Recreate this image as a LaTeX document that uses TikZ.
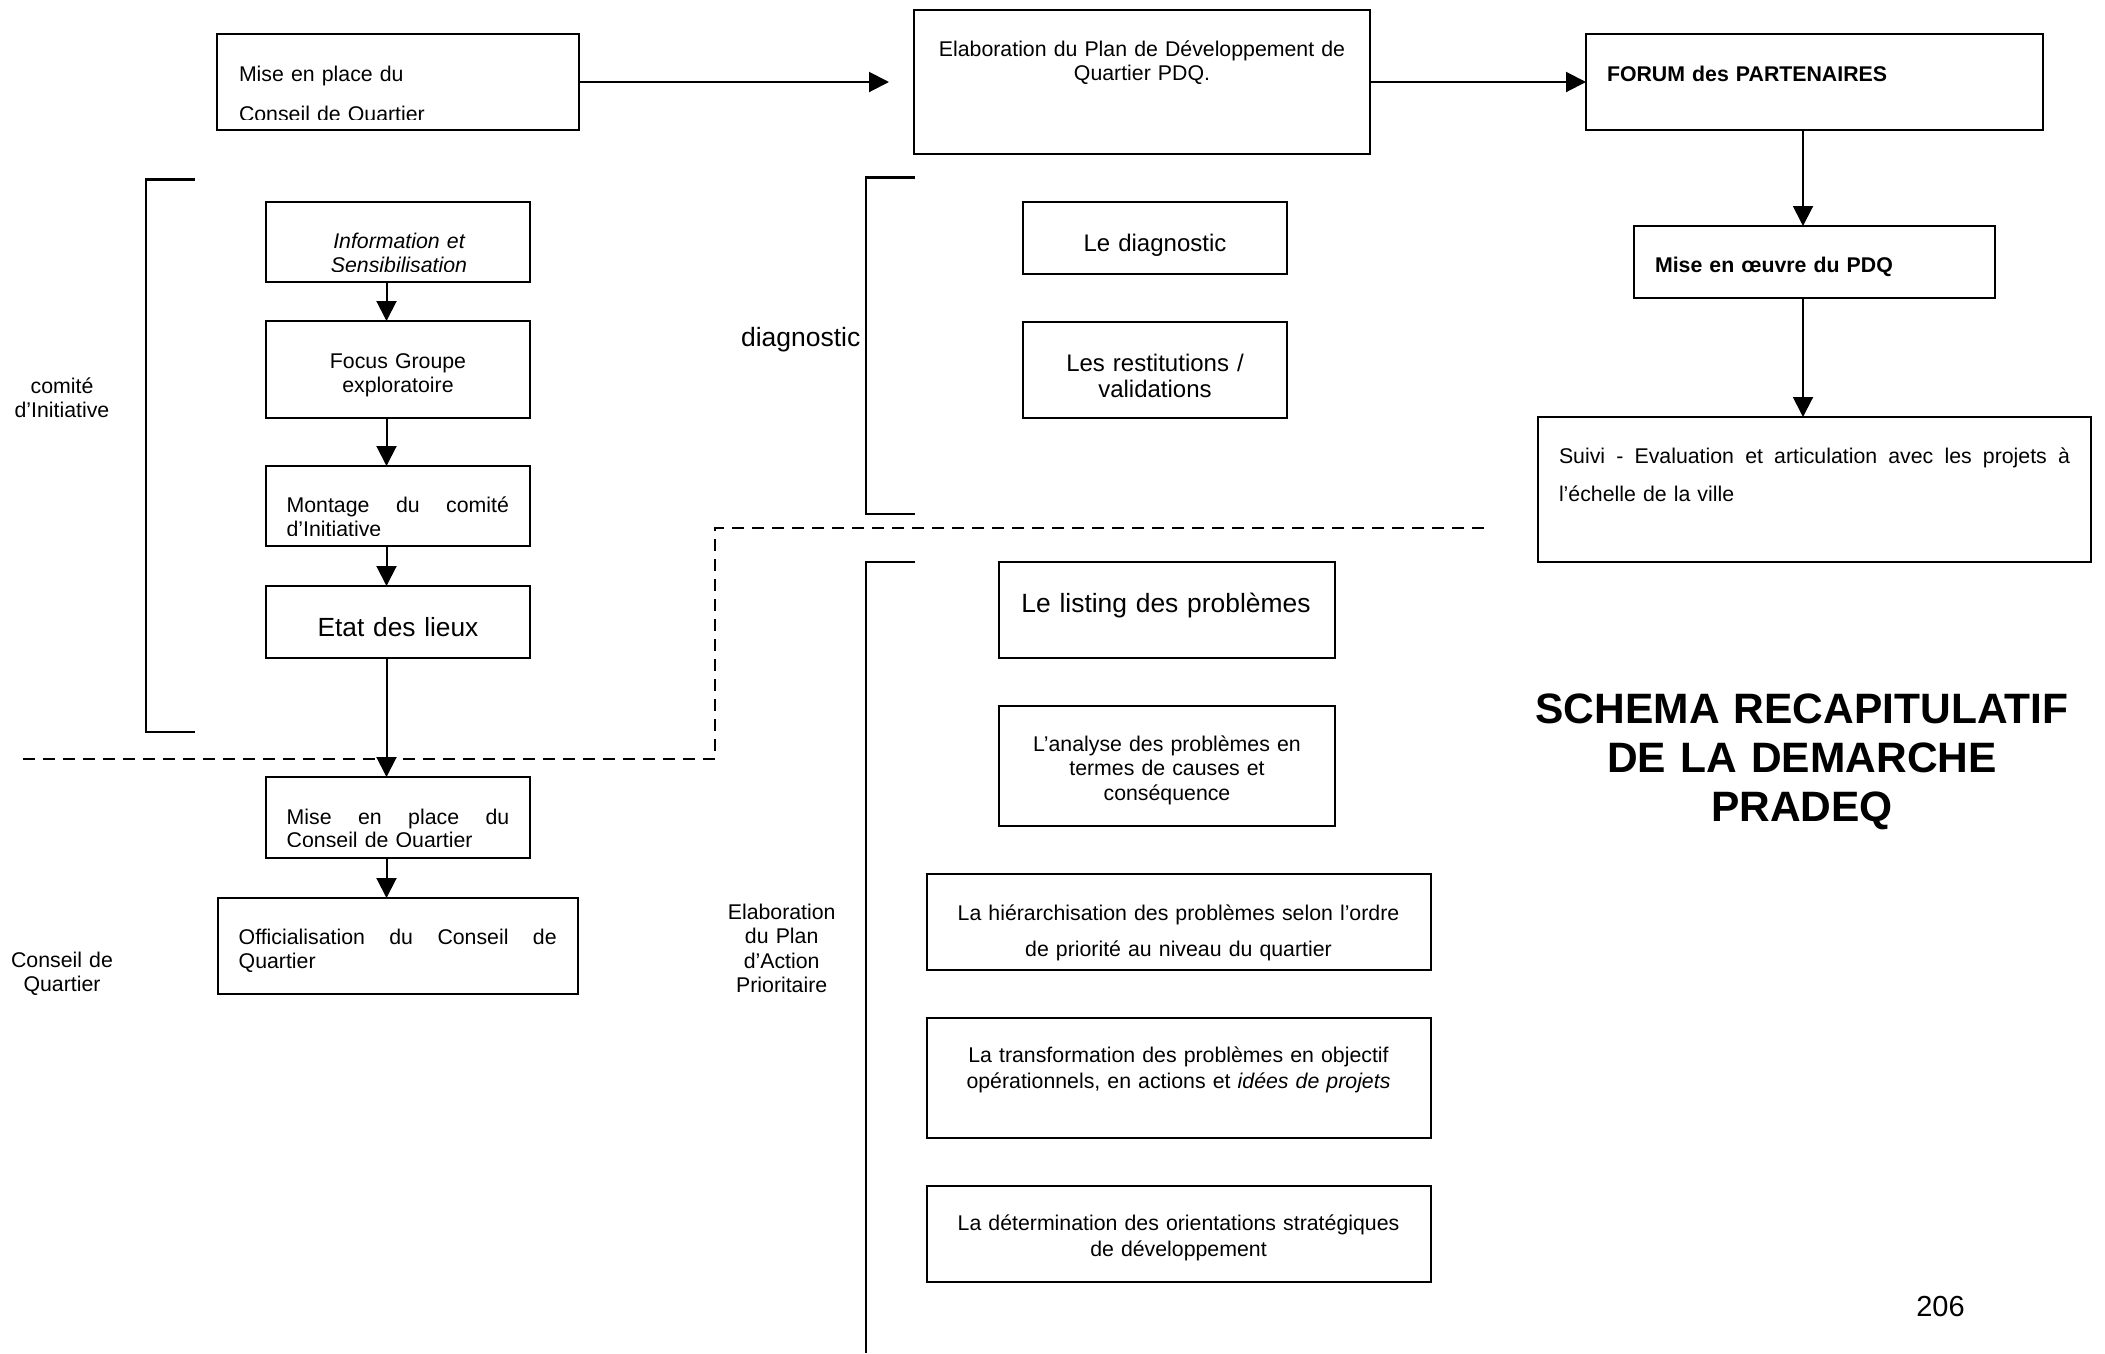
\documentclass[tikz,border=0pt]{standalone}
\usepackage{fontspec}
\setmainfont{Liberation Sans}
\usetikzlibrary{arrows.meta}
\begin{document}
\begin{tikzpicture}[x=1pt,y=-1pt,
  box/.style={draw, line width=2.2pt, inner sep=0pt, outer sep=0pt, anchor=north west},
  tc/.style={inner sep=0pt, outer sep=0pt, text width=700pt, align=center, anchor=base},
  tl/.style={inner sep=0pt, outer sep=0pt, text width=700pt, align=left, anchor=base west},
  fn/.style={font=\fontsize{21.3pt}{#1pt}\selectfont},
  arr/.style={line width=2pt, -{Triangle[length=20pt,width=20pt]}},
  brk/.style={line width=2.2pt},
  dsh/.style={line width=2pt, dash pattern=on 12pt off 8pt},
]
\useasboundingbox (0,0) rectangle (2105,1353);
\fill[white] (0,0) rectangle (2105,1353);

% boxes
\node[box, minimum width=362pt, minimum height=96pt] (A) at (217,34) {};
\node[box, minimum width=456pt, minimum height=144pt] (B) at (914,10) {};
\node[box, minimum width=457pt, minimum height=96pt] (C) at (1586,34) {};
\node[box, minimum width=361pt, minimum height=72pt] (D) at (1634,226) {};
\node[box, minimum width=553pt, minimum height=145pt] (E) at (1538,417) {};
\node[box, minimum width=264pt, minimum height=80pt] (F) at (266,202) {};
\node[box, minimum width=264pt, minimum height=97pt] (G) at (266,321) {};
\node[box, minimum width=264pt, minimum height=80pt] (H) at (266,466) {};
\node[box, minimum width=264pt, minimum height=72pt] (I) at (266,586) {};
\node[box, minimum width=264pt, minimum height=81pt] (J) at (266,777) {};
\node[box, minimum width=360pt, minimum height=96pt] (K) at (218,898) {};
\node[box, minimum width=264pt, minimum height=72pt] (Ldiag) at (1023,202) {};
\node[box, minimum width=264pt, minimum height=96pt] (Lrest) at (1023,322) {};
\node[box, minimum width=336pt, minimum height=96pt] (Llist) at (999,562) {};
\node[box, minimum width=336pt, minimum height=120pt] (Lanal) at (999,706) {};
\node[box, minimum width=504pt, minimum height=96pt] (Lhier) at (927,874) {};
\node[box, minimum width=504pt, minimum height=120pt] (Ltrans) at (927,1018) {};
\node[box, minimum width=504pt, minimum height=96pt] (Ldet) at (927,1186) {};

% texts in boxes (some are cut by the box bottom, as in the original)
\begin{scope}
  \clip (220,36) rectangle (576,119.5);
  \node[tl, fn=40] (tA) at (239,81.4) {Mise en place du\\Conseil de Quartier};
\end{scope}
\node[tc, fn=24.5] (tB) at (1142,56) {Elaboration du Plan de Développement de\\Quartier PDQ.};
\node[tl, font=\bfseries\fontsize{21.3pt}{25pt}\selectfont] (tC) at (1607,81.5) {FORUM des PARTENAIRES};
\node[tl, font=\bfseries\fontsize{21.3pt}{25pt}\selectfont] (tD) at (1655,272) {Mise en œuvre du PDQ};
\node[tl, fn=38] (tE) at (1559,463) {\makebox[511pt][s]{Suivi\hfill-\hfill Evaluation\hfill et\hfill articulation\hfill avec\hfill les\hfill projets\hfill à}\\l’échelle de la ville};
\begin{scope}
  \clip (268,204) rectangle (528,271);
  \node[tc, font=\itshape\fontsize{21.3pt}{24.5pt}\selectfont] (tF) at (399,248) {Information et\\Sensibilisation};
\end{scope}
\node[tc, fn=24] (tG) at (398,368) {Focus Groupe\\exploratoire};
\begin{scope}
  \clip (268,468) rectangle (528,535);
  \node[tl, fn=23.5] (tH) at (286.6,512.5) {\makebox[222.4pt][s]{Montage\hfill du\hfill comité}\\d’Initiative};
\end{scope}
\node[tc, font=\fontsize{26.3pt}{30pt}\selectfont] (tI) at (398,636.7) {Etat des lieux};
\begin{scope}
  \clip (268,779) rectangle (528,846.5);
  \node[tl, fn=23] (tJ) at (286.7,824) {\makebox[222.6pt][s]{Mise\hfill en\hfill place\hfill du}\\Conseil de Quartier};
\end{scope}
\node[tl, fn=24.3] (tK) at (238.7,944) {\makebox[318pt][s]{Officialisation\hfill du\hfill Conseil\hfill de}\\Quartier};
\node[tc, font=\fontsize{24pt}{25.6pt}\selectfont] (tDiag) at (1155,251) {Le diagnostic};
\node[tc, font=\fontsize{24pt}{25.6pt}\selectfont] (tRest) at (1155,371.4) {Les restitutions /\\validations};
\node[tc, font=\fontsize{26.4pt}{30pt}\selectfont] (tList) at (1166,612.7) {Le listing des problèmes};
\node[tc, fn=24.2] (tAnal) at (1167,751.7) {L’analyse des problèmes en\\termes de causes et\\conséquence};
\node[tc, fn=36.7] (tHier) at (1178.5,920) {La hiérarchisation des problèmes selon l’ordre\\de priorité au niveau du quartier};
\node[tc, fn=25.6] (tTrans) at (1178.5,1062.7) {La transformation des problèmes en objectif\\opérationnels, en actions et \textit{idées de projets}};
\node[tc, fn=26] (tDet) at (1178.5,1230.7) {La détermination des orientations stratégiques\\de développement};

% side labels
\node[tc, fn=24] (lbCI) at (62,393) {comité\\d’Initiative};
\node[tc, fn=24] (lbCQ) at (62,967) {Conseil de\\Quartier};
\node[tc, font=\fontsize{26.5pt}{30pt}\selectfont] (lbDiag) at (800.7,346.4) {diagnostic};
\node[tc, fn=24.5] (lbPAP) at (781.7,919.3) {Elaboration\\du Plan\\d’Action\\Prioritaire};

% title and page number
\node[tc, font=\bfseries\fontsize{42.5pt}{49.2pt}\selectfont] (title) at (1802,723.3) {SCHEMA RECAPITULATIF\\DE LA DEMARCHE\\PRADEQ};
\node[tc, font=\fontsize{29pt}{30pt}\selectfont] (pnum) at (1940.5,1316) {206};

% brackets
\draw[brk] (194.7,179.5) -- (146,179.5) -- (146,731.7) -- (194.7,731.7);
\draw[brk] (915,177.5) -- (866,177.5) -- (866,514) -- (915,514);
\draw[brk] (915,561.7) -- (866,561.7) -- (866,1353);

% dashed separator
\draw[dsh] (23,758.7) -- (715.3,758.7) -- (715.3,528) -- (1484,528);

% connectors
\coordinate (lx) at (386.5,0);
\coordinate (rx) at (1803,0);
\draw[arr, shorten >=25pt] (A.east) -- (B.west);
\draw[arr] (B.east) -- (C.west);
\draw[arr] (C.south -| rx) -- (D.north -| rx);
\draw[arr] (D.south -| rx) -- (E.north -| rx);
\draw[arr] (F.south -| lx) -- (G.north -| lx);
\draw[arr] (G.south -| lx) -- (H.north -| lx);
\draw[arr] (H.south -| lx) -- (I.north -| lx);
\draw[arr] (I.south -| lx) -- (J.north -| lx);
\draw[arr] (J.south -| lx) -- (K.north -| lx);
\end{tikzpicture}
\end{document}
